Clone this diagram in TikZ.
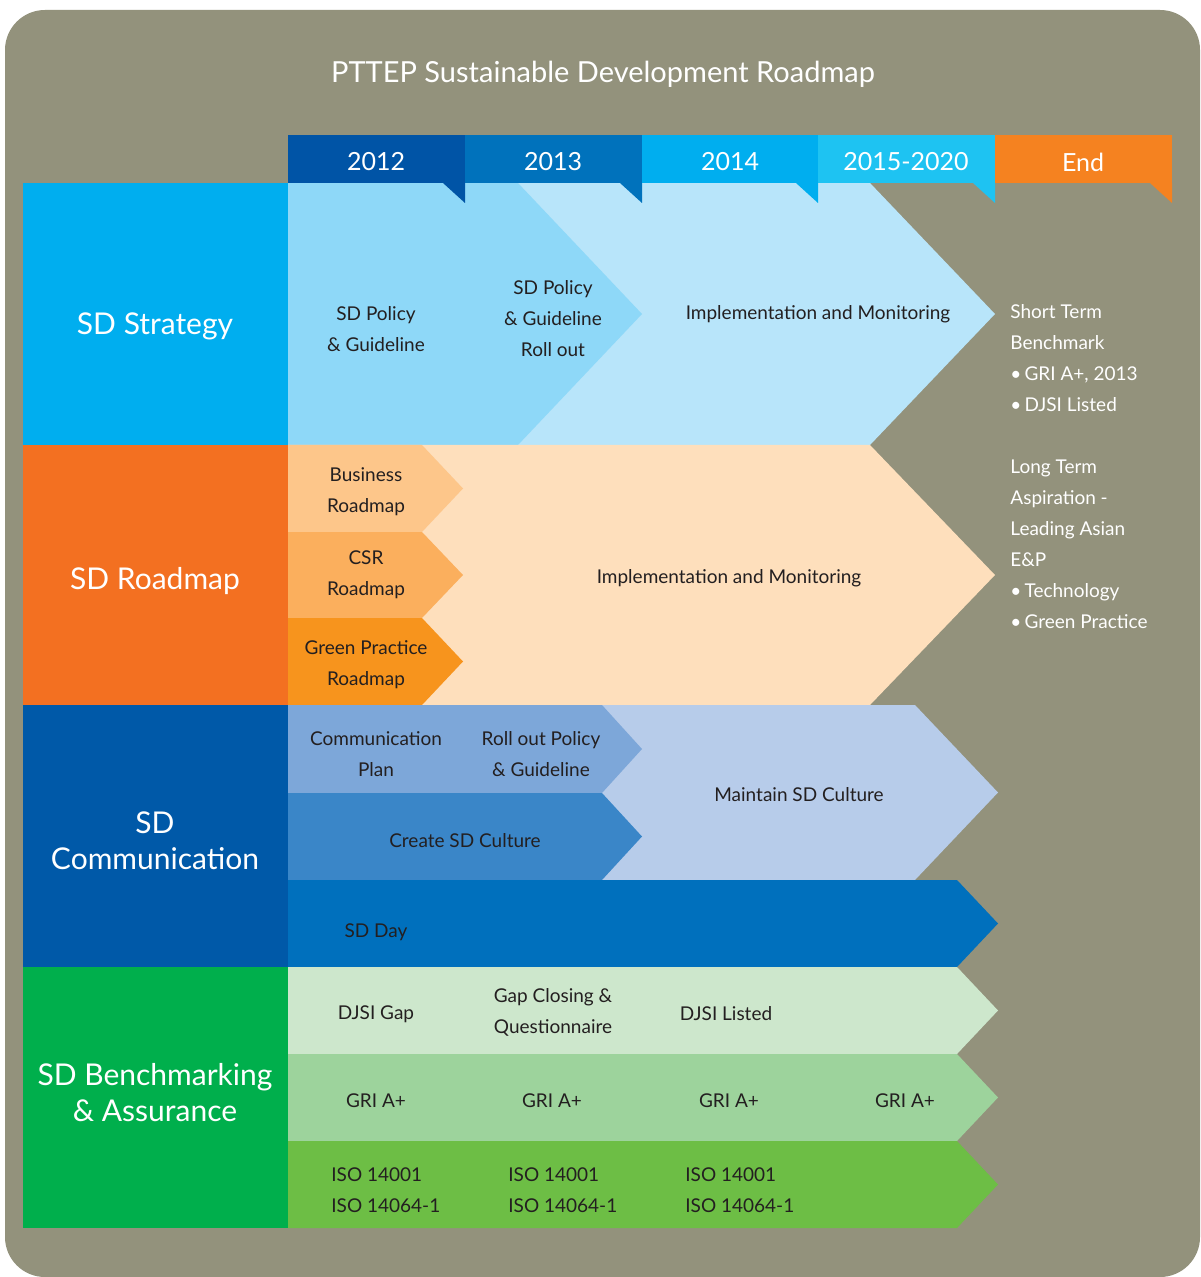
\documentclass[tikz,border=0pt]{standalone}
\usepackage{fontspec}
\setmainfont{Lato}
\usepackage{tikz}
\usetikzlibrary{calc}
\definecolor{bggray}{HTML}{93927C}
\definecolor{txtdark}{HTML}{231F20}
\definecolor{yrA}{HTML}{0054A6}
\definecolor{yrB}{HTML}{0072BC}
\definecolor{yrC}{HTML}{00AEEF}
\definecolor{yrD}{HTML}{1EC3F2}
\definecolor{yrEnd}{HTML}{F58220}
\definecolor{stratcol}{HTML}{00AEEF}
\definecolor{stratA}{HTML}{8ED8F8}
\definecolor{stratB}{HTML}{B8E5FA}
\definecolor{roadcol}{HTML}{F37021}
\definecolor{roadA}{HTML}{FDC68A}
\definecolor{roadB}{HTML}{FBAF5D}
\definecolor{roadC}{HTML}{F7941D}
\definecolor{roadD}{HTML}{FEDFBC}
\definecolor{commcol}{HTML}{0059A8}
\definecolor{commA}{HTML}{7DA7D9}
\definecolor{commB}{HTML}{3A86C8}
\definecolor{commC}{HTML}{B7CCEA}
\definecolor{commD}{HTML}{0070BD}
\definecolor{benchcol}{HTML}{00AF4C}
\definecolor{benchA}{HTML}{CDE7CC}
\definecolor{benchB}{HTML}{9DD39C}
\definecolor{benchC}{HTML}{6DBE45}
\newcommand{\chev}[6]{ \fill[#1] ( #2 , #3 ) -- ( #4 , #3 ) -- ( #5 , {(#3+#6)/2} ) -- ( #4 , #6 ) -- ( #2 , #6 ) -- cycle;}
\newcommand{\yearflag}[3]{ \fill[#1] ( #2 , 135 ) rectangle ( #3 , 183 ); \fill[#1] ( {#3-22} , 183 ) -- ( #3 , 183 ) -- ( #3 , 203 ) -- cycle;}
\tikzset{
  body/.style={text=txtdark, align=center, inner sep=0pt, font=\fontsize{9.5}{15.5}\selectfont},
  cat/.style={text=white, align=center, inner sep=0pt, font=\fontsize{15}{18}\selectfont},
  yr/.style={text=white, inner sep=0pt, font=\fontsize{12.5}{14}\selectfont},
  side/.style={text=white, align=left, inner sep=0pt, anchor=north west, font=\fontsize{9.5}{15.5}\selectfont}
}
\begin{document}
\begin{tikzpicture}[x=0.5pt, y=-0.5pt]
        \useasboundingbox (0,0) rectangle (1200,1277);
        \fill[white] (0,0) rectangle (1200,1277);
        \fill[bggray, rounded corners=20pt] (5,10) rectangle (1200,1277);
        \node[text=white, inner sep=0pt, font=\fontsize{14.5}{17}\selectfont] (title) at (603,74) {PTTEP Sustainable Development Roadmap};

        % categories
        \fill[stratcol] (23,183) rectangle (288,445);
        \fill[roadcol] (23,445) rectangle (288,705);
        \fill[commcol] (23,705) rectangle (288,967);
        \fill[benchcol] (23,967) rectangle (288,1228);
        \node[cat] (strategy) at (155,326) {SD Strategy};
        \node[cat] (roadmap) at (155,581) {SD Roadmap};
        \node[cat] (comm) at (155,841) {SD\\Communication};
        \node[cat] (bench) at (155,1093) {SD Benchmarking\\\& Assurance};

        % row1
        \chev{stratB}{288}{183}{870}{995}{445}
        \chev{stratA}{288}{183}{518}{642}{445}
        \node[body] (polA) at (376,329) {SD Policy\\\& Guideline};
        \node[body] (polB) at (553,319) {SD Policy\\\& Guideline\\Roll out};
        \node[body] (implA) at (818,314) {Implementation and Monitoring};

        % years
        \yearflag{yrEnd}{995}{1172}
        \yearflag{yrD}{818}{995}
        \yearflag{yrC}{642}{818}
        \yearflag{yrB}{465}{642}
        \yearflag{yrA}{288}{465}
        \node[yr] (y2012) at (376,162) {2012};
        \node[yr] (y2013) at (553,162) {2013};
        \node[yr] (y2014) at (730,162) {2014};
        \node[yr] (y2015) at (906,162) {2015-2020};
        \node[yr] (yend) at (1083,162) {End};

        % row2
        \chev{roadD}{288}{445}{870}{995}{705}
        \chev{roadA}{288}{445}{422}{463}{532}
        \chev{roadB}{288}{532}{422}{463}{618}
        \chev{roadC}{288}{618}{422}{463}{705}
        \node[body] (busi) at (366,492) {Business\\Roadmap};
        \node[body] (csr) at (366,575) {CSR\\Roadmap};
        \node[body] (gpr) at (366,665) {Green Practice\\Roadmap};
        \node[body] (implB) at (729,578) {Implementation and Monitoring};

        % row3
        \chev{commC}{288}{705}{915}{998}{880}
        \chev{commA}{288}{705}{602}{642}{793}
        \chev{commB}{288}{793}{602}{642}{880}
        \chev{commD}{288}{880}{957}{998}{967}
        \node[body] (cplan) at (376,754) {Communication\\Plan};
        \node[body] (rollout) at (541,754) {Roll out Policy\\\& Guideline};
        \node[body] (culture) at (465,841) {Create SD Culture};
        \node[body] (maintain) at (799,795) {Maintain SD Culture};
        \node[body] (sdday) at (376,932) {SD Day};

        % row4
        \chev{benchA}{288}{967}{957}{998}{1054}
        \chev{benchB}{288}{1054}{957}{998}{1141}
        \chev{benchC}{288}{1141}{957}{998}{1228}
        \node[body] (djsigap) at (376,1014) {DJSI Gap};
        \node[body] (gapclose) at (553,1012) {Gap Closing \&\\Questionnaire};
        \node[body] (djsilist) at (726,1014) {DJSI Listed};
        \node[body] (griA) at (376,1101) {GRI A+};
        \node[body] (griB) at (552,1101) {GRI A+};
        \node[body] (griC) at (729,1101) {GRI A+};
        \node[body] (griD) at (905,1101) {GRI A+};
        \node[body, align=left, anchor=west] (isoA) at (331,1190) {ISO 14001\\ISO 14064-1};
        \node[body, align=left, anchor=west] (isoB) at (508,1190) {ISO 14001\\ISO 14064-1};
        \node[body, align=left, anchor=west] (isoC) at (685,1190) {ISO 14001\\ISO 14064-1};

        % targets
        \node[side] (shortterm) at (1010,304) {Short Term\\Benchmark\\\textbullet\,GRI A+, 2013\\\textbullet\,DJSI Listed};
        \node[side] (longterm) at (1010,459) {Long Term\\Aspiration -\\Leading Asian\\E\&P\\\textbullet\,Technology\\\textbullet\,Green Practice};
    \end{tikzpicture}
\end{document}
